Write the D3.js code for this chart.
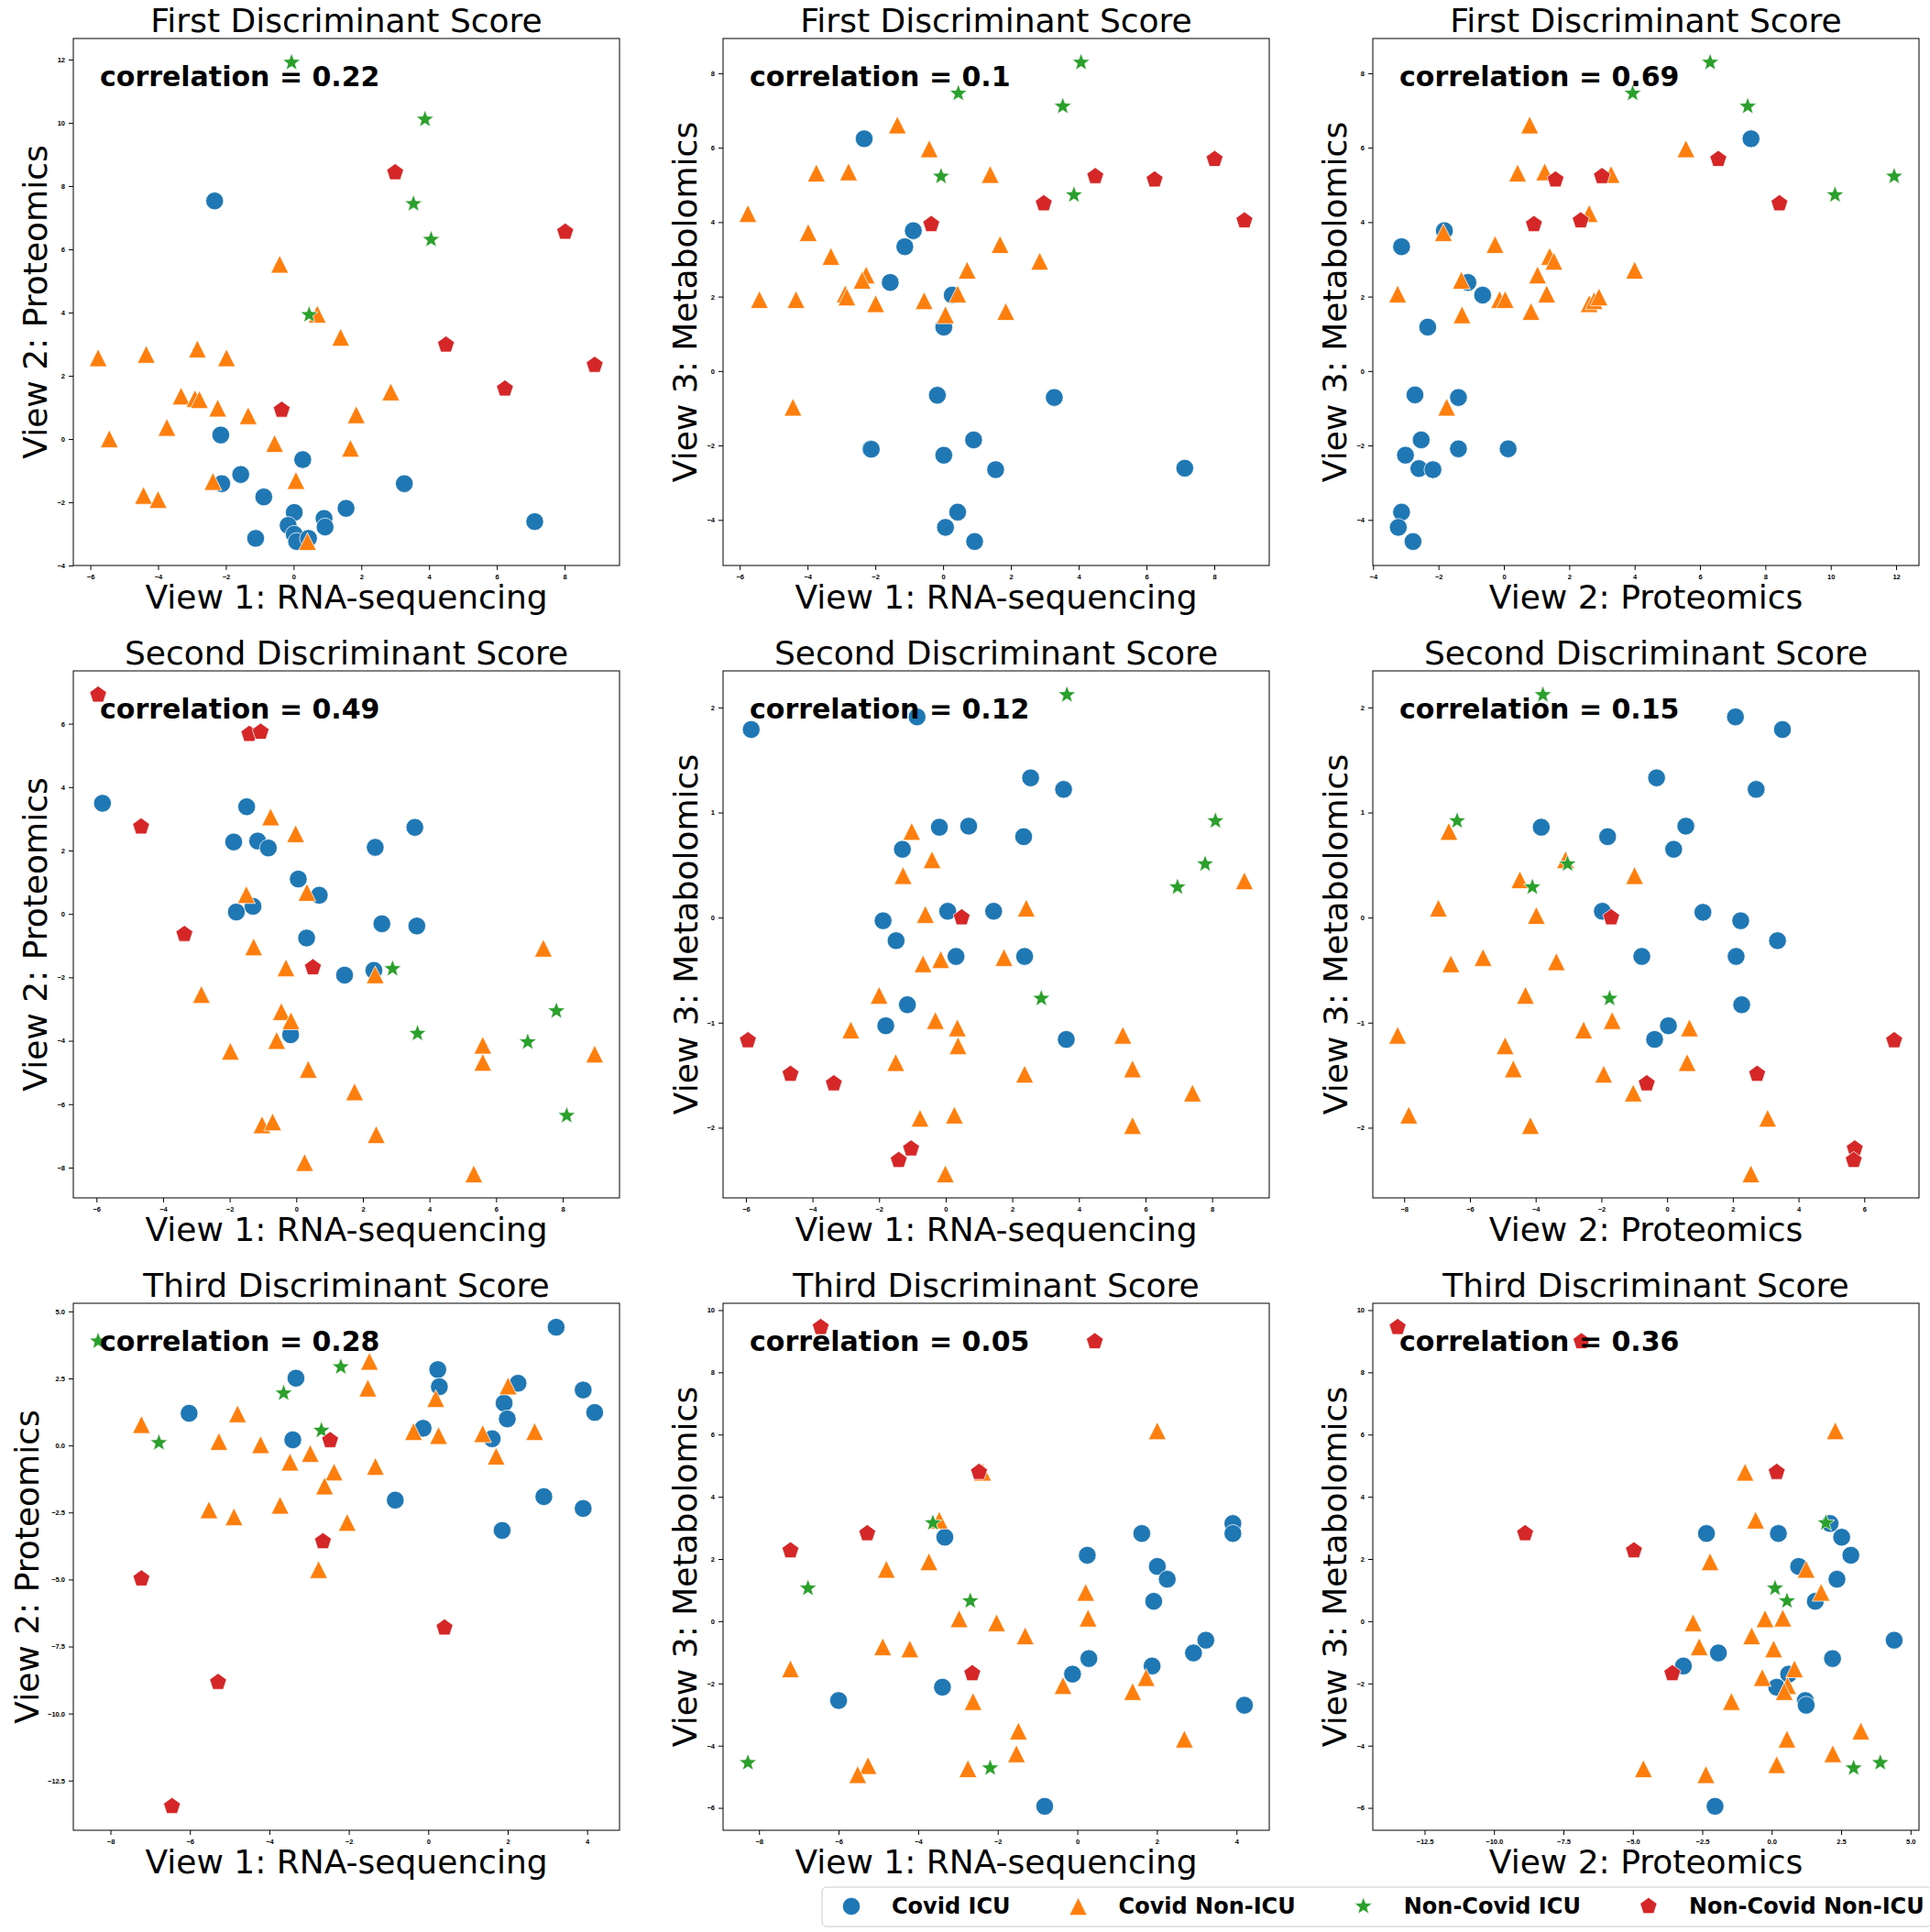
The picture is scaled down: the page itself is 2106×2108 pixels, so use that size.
<!DOCTYPE html>
<html lang="en">
<head>
<meta charset="UTF-8">
<title>Discriminant scores across views</title>
<script src="https://d3js.org/d3.v7.min.js"></script>
<style>
  body { margin: 0; background: #fff; }
  svg { display: block; font-family: "DejaVu Sans", sans-serif; }
  .tick text { font-size: 7.5px; font-weight: bold; fill: #000; }
  .tick line { stroke: #000; }
  .frame { fill: none; stroke: #000; stroke-width: 1; }
  .title, .label { font-size: 36px; fill: #000; }
  .corr { font-size: 30px; font-weight: bold; fill: #000; }
  .legend text { font-size: 24px; font-weight: bold; fill: #000; }
</style>
</head>
<body>
<svg id="chart" width="2106" height="2108"></svg>
<script>
// groups, in drawing order
const groups = ["Covid ICU", "Covid Non-ICU", "Non-Covid ICU", "Non-Covid Non-ICU"];
const scoreTitles = ["First Discriminant Score", "Second Discriminant Score", "Third Discriminant Score"];
const viewNames = ["View 1: RNA-sequencing", "View 2: Proteomics", "View 3: Metabolomics"];
const viewPairs = [[0, 1], [0, 2], [1, 2]];
const correlations = [[0.22, 0.1, 0.69], [0.49, 0.12, 0.15], [0.28, 0.05, 0.36]];

// tick values, row by row
const xTickValues = [
  [-6, -4, -2, 0, 2, 4, 6, 8], [-6, -4, -2, 0, 2, 4, 6, 8], [-4, -2, 0, 2, 4, 6, 8, 10, 12],
  [-6, -4, -2, 0, 2, 4, 6, 8], [-6, -4, -2, 0, 2, 4, 6, 8], [-8, -6, -4, -2, 0, 2, 4, 6],
  [-8, -6, -4, -2, 0, 2, 4], [-8, -6, -4, -2, 0, 2, 4], [-12.5, -10, -7.5, -5, -2.5, 0, 2.5, 5]
];
const yTickValues = [
  [-4, -2, 0, 2, 4, 6, 8, 10, 12], [-4, -2, 0, 2, 4, 6, 8], [-4, -2, 0, 2, 4, 6, 8],
  [-8, -6, -4, -2, 0, 2, 4, 6], [-2, -1, 0, 1, 2], [-2, -1, 0, 1, 2],
  [-12.5, -10, -7.5, -5, -2.5, 0, 2.5, 5], [-6, -4, -2, 0, 2, 4, 6, 8, 10], [-6, -4, -2, 0, 2, 4, 6, 8, 10]
];

// each panel: [Covid ICU, Covid Non-ICU, Non-Covid ICU, Non-Covid Non-ICU] as [x, y]
const firstRnaProt = [
  [[-2.33,7.53],[-2.15,0.13],[-2.12,-1.41],[-1.56,-1.12],[-1.12,-3.14],[-0.88,-1.83],[0.27,-0.65],[0.02,-2.32],[-0.16,-2.73],[0.02,-3.01],[0.09,-3.24],[0.44,-3.14],[0.90,-2.51],[0.93,-2.78],[1.55,-2.19],[3.27,-1.41],[7.12,-2.61]],
  [[-0.41,5.53],[0.70,3.95],[1.39,3.22],[-5.77,2.57],[-4.35,2.68],[-2.84,2.85],[-1.98,2.57],[2.87,1.49],[-3.32,1.36],[-2.91,1.28],[-2.78,1.25],[-2.24,0.98],[-1.34,0.74],[1.85,0.77],[-3.74,0.37],[-5.44,0.01],[-0.56,-0.14],[1.68,-0.29],[0.07,-1.31],[-2.38,-1.34],[-4.43,-1.78],[-4.0,-1.91],[0.41,-3.24]],
  [[-0.06,11.91],[3.88,10.11],[3.54,7.44],[4.06,6.31],[0.46,3.93]],
  [[3.0,8.43],[8.02,6.55],[4.5,2.98],[8.89,2.34],[6.24,1.59],[-0.35,0.92]]
];
const firstRnaMetab = [
  [[-2.33,6.24],[-0.88,3.77],[-1.13,3.34],[-1.56,2.38],[0.27,2.04],[0.02,1.18],[-0.17,-0.65],[3.28,-0.71],[-2.14,-2.09],[-2.12,-2.1],[0.90,-1.85],[0.02,-2.26],[1.55,-2.65],[7.13,-2.61],[0.43,-3.79],[0.07,-4.2],[0.93,-4.58]],
  [[-1.35,6.61],[-0.41,5.97],[-3.74,5.32],[-2.79,5.35],[1.39,5.28],[-5.76,4.23],[-3.98,3.72],[-3.31,3.08],[1.68,3.40],[2.85,2.95],[0.71,2.71],[-2.27,2.58],[-2.39,2.44],[-2.89,2.07],[-2.84,1.99],[-5.42,1.92],[-4.34,1.92],[-1.99,1.81],[-0.56,1.89],[0.43,2.07],[0.07,1.51],[1.85,1.60],[-4.43,-0.97]],
  [[4.07,8.29],[0.45,7.46],[3.53,7.11],[-0.06,5.23],[3.86,4.73]],
  [[8.01,5.69],[4.49,5.23],[6.24,5.14],[2.97,4.50],[-0.35,3.94],[8.89,4.04]]
];
const firstProtMetab = [
  [[7.56,6.24],[-1.82,3.77],[-3.13,3.34],[-1.10,2.38],[-0.65,2.04],[-2.33,1.18],[-2.72,-0.64],[-1.39,-0.71],[-2.53,-1.85],[-3.01,-2.26],[-2.60,-2.62],[-2.17,-2.65],[-1.39,-2.09],[0.13,-2.09],[-3.13,-3.79],[-3.23,-4.20],[-2.78,-4.58]],
  [[0.79,6.61],[5.57,5.97],[0.42,5.32],[1.25,5.35],[3.28,5.28],[2.61,4.23],[-1.85,3.72],[-0.27,3.40],[1.40,3.08],[1.53,2.95],[4.0,2.71],[1.03,2.58],[-1.30,2.44],[1.31,2.07],[-3.25,2.07],[-0.13,1.92],[0.04,1.92],[2.61,1.81],[2.76,1.89],[2.91,1.99],[-1.28,1.51],[0.83,1.60],[-1.75,-0.97]],
  [[6.31,8.29],[3.94,7.46],[7.46,7.11],[11.94,5.23],[10.13,4.73]],
  [[6.56,5.69],[3.0,5.23],[1.58,5.14],[8.43,4.50],[0.92,3.94],[2.35,4.04]]
];
const secondRnaProt = [
  [[-5.82,3.49],[-1.49,3.38],[-1.88,2.27],[-1.16,2.30],[-0.84,2.08],[2.37,2.10],[3.56,2.73],[0.06,1.10],[0.69,0.59],[-1.30,0.24],[-1.80,0.06],[2.57,-0.31],[3.62,-0.38],[0.31,-0.76],[2.33,-1.78],[1.45,-1.93],[-0.17,-3.81]],
  [[-0.77,3.06],[-0.02,2.53],[-1.50,0.61],[0.32,0.68],[-1.28,-1.04],[7.42,-1.08],[-0.31,-1.70],[2.37,-1.92],[-2.85,-2.54],[-0.45,-3.08],[-0.16,-3.37],[-0.59,-3.99],[-1.98,-4.33],[5.60,-4.14],[5.60,-4.68],[8.96,-4.42],[0.36,-4.90],[1.75,-5.61],[-1.03,-6.65],[-0.71,-6.56],[2.40,-6.96],[0.25,-7.84],[5.33,-8.20]],
  [[2.89,-1.73],[7.81,-3.06],[3.64,-3.77],[6.95,-4.04],[8.12,-6.36]],
  [[-5.95,6.91],[-1.41,5.67],[-1.07,5.74],[-4.66,2.75],[-3.36,-0.64],[0.50,-1.69]]
];
const secondRnaMetab = [
  [[-5.84,1.79],[-0.86,1.91],[2.55,1.33],[3.54,1.22],[-0.19,0.86],[0.69,0.87],[2.34,0.77],[-1.30,0.65],[0.06,0.06],[1.44,0.06],[-1.88,-0.03],[-1.49,-0.22],[0.31,-0.37],[2.37,-0.37],[-1.15,-0.83],[-1.80,-1.03],[3.62,-1.16]],
  [[-1.02,0.82],[-0.41,0.55],[-1.28,0.40],[8.97,0.35],[-0.61,0.03],[2.42,0.09],[-0.68,-0.44],[-0.15,-0.40],[1.75,-0.38],[-2.0,-0.74],[-2.85,-1.07],[-0.31,-0.98],[0.35,-1.05],[0.37,-1.22],[5.32,-1.12],[-1.50,-1.38],[2.37,-1.49],[5.61,-1.44],[7.41,-1.67],[-0.77,-1.91],[0.26,-1.88],[5.61,-1.98],[-0.01,-2.44]],
  [[3.64,2.12],[8.10,0.92],[7.79,0.51],[6.96,0.29],[2.87,-0.77]],
  [[0.48,0.0],[-5.94,-1.17],[-4.66,-1.49],[-3.36,-1.58],[-1.04,-2.20],[-1.41,-2.31]]
];
const secondProtMetab = [
  [[2.08,1.91],[3.51,1.79],[-0.32,1.33],[2.71,1.22],[-3.83,0.86],[0.57,0.87],[-1.81,0.77],[0.20,0.65],[-1.97,0.06],[1.09,0.05],[2.24,-0.03],[3.36,-0.22],[-0.77,-0.37],[2.10,-0.37],[2.27,-0.83],[0.04,-1.03],[-0.38,-1.16]],
  [[-6.64,0.82],[-3.09,0.55],[-4.48,0.36],[-0.99,0.40],[-6.96,0.09],[-3.98,0.02],[-6.58,-0.44],[-5.60,-0.38],[-3.37,-0.42],[-4.31,-0.74],[-8.20,-1.12],[-4.93,-1.22],[-4.68,-1.44],[-2.54,-1.07],[-1.67,-0.98],[0.68,-1.05],[0.61,-1.38],[-1.93,-1.49],[-1.03,-1.67],[-7.86,-1.88],[-4.16,-1.98],[3.06,-1.91],[2.55,-2.44]],
  [[-3.78,2.12],[-6.39,0.92],[-3.03,0.51],[-4.10,0.29],[-1.75,-0.77]],
  [[-1.70,0.0],[6.91,-1.17],[2.74,-1.49],[-0.62,-1.58],[5.71,-2.20],[5.68,-2.31]]
];
const thirdRnaProt = [
  [[3.22,4.41],[-3.33,2.51],[0.24,2.83],[0.28,2.19],[2.26,2.32],[3.90,2.07],[4.19,1.23],[-6.02,1.20],[1.91,1.58],[1.99,0.99],[-0.13,0.64],[-3.41,0.21],[1.61,0.25],[-0.83,-2.04],[2.91,-1.91],[3.90,-2.35],[1.86,-3.17]],
  [[-1.48,3.14],[-1.52,2.14],[2.01,2.22],[0.19,1.75],[-4.80,1.18],[-7.22,0.78],[-0.37,0.52],[0.26,0.37],[1.37,0.44],[2.68,0.52],[-5.27,0.15],[-4.22,0.03],[-2.97,-0.30],[1.71,-0.40],[-3.48,-0.62],[-2.37,-0.99],[-1.33,-0.78],[-2.61,-1.51],[-5.52,-2.40],[-3.73,-2.23],[-4.89,-2.66],[-2.04,-2.87],[-2.76,-4.63]],
  [[-8.31,3.89],[-2.20,2.93],[-3.64,1.95],[-2.69,0.56],[-6.78,0.10]],
  [[-2.47,0.19],[-2.65,-3.58],[-7.22,-4.97],[0.41,-6.80],[-5.29,-8.83],[-6.45,-13.46]]
];
const thirdRnaMetab = [
  [[-3.33,2.70],[1.62,2.82],[3.91,3.14],[3.91,2.82],[0.25,2.12],[2.01,1.76],[2.26,1.35],[1.92,0.64],[3.23,-0.61],[2.92,-1.02],[0.29,-1.20],[1.88,-1.44],[-0.12,-1.70],[-3.39,-2.12],[-6.0,-2.55],[4.20,-2.70],[-0.82,-5.95]],
  [[2.01,6.12],[-2.38,4.79],[-3.47,3.25],[-3.73,1.91],[-4.80,1.67],[0.21,0.93],[0.27,0.10],[-2.97,0.08],[-2.03,-0.05],[-1.31,-0.47],[-4.89,-0.82],[-4.21,-0.89],[-7.21,-1.53],[1.73,-1.81],[-0.36,-2.07],[1.39,-2.26],[-2.62,-2.58],[-1.48,-3.53],[2.69,-3.79],[-1.53,-4.26],[-5.26,-4.64],[-5.52,-4.93],[-2.75,-4.74]],
  [[-3.63,3.16],[-6.77,1.06],[-2.69,0.65],[-8.28,-4.55],[-2.19,-4.72]],
  [[-6.45,9.45],[0.44,8.99],[-2.47,4.79],[-5.28,2.82],[-7.21,2.27],[-2.64,-1.68]]
];
const thirdProtMetab = [
  [[-2.35,2.82],[0.24,2.82],[2.10,3.14],[2.52,2.70],[2.85,2.12],[0.97,1.76],[2.35,1.35],[1.57,0.64],[4.41,-0.61],[-1.92,-1.02],[2.19,-1.20],[-3.18,-1.44],[0.61,-1.70],[0.18,-2.12],[1.21,-2.55],[1.24,-2.70],[-2.04,-5.95]],
  [[2.29,6.12],[-0.96,4.79],[-0.58,3.25],[-2.22,1.91],[1.24,1.67],[1.78,0.93],[0.40,0.10],[-2.83,-0.05],[-0.24,0.08],[-0.72,-0.47],[-2.61,-0.82],[0.07,-0.89],[0.82,-1.53],[-0.34,-1.81],[0.57,-2.07],[0.45,-2.26],[-1.45,-2.58],[3.21,-3.53],[0.55,-3.79],[2.20,-4.26],[-4.62,-4.74],[-2.37,-4.93],[0.18,-4.61]],
  [[1.95,3.16],[0.12,1.06],[0.55,0.65],[3.91,-4.55],[2.95,-4.72]],
  [[-13.47,9.45],[-6.85,8.99],[0.18,4.79],[-8.88,2.82],[-4.96,2.27],[-3.58,-1.68]]
];

const panels = [
  [firstRnaProt, firstRnaMetab, firstProtMetab],
  [secondRnaProt, secondRnaMetab, secondProtMetab],
  [thirdRnaProt, thirdRnaMetab, thirdProtMetab]
];

const colors = ["#1f77b4", "#ff7f0e", "#2ca02c", "#d62728"];
const R = 9.7; // half marker size

// marker outlines like matplotlib's o ^ * p
function polygon(n, rOuter, rInner) {
  const pts = [];
  const k = rInner ? n * 2 : n;
  for (let i = 0; i < k; i++) {
    const a = -Math.PI / 2 + i * 2 * Math.PI / k;
    const r = rInner && i % 2 ? rInner : rOuter;
    pts.push([r * Math.cos(a), r * Math.sin(a)]);
  }
  return "M" + pts.map(p => p[0].toFixed(2) + "," + p[1].toFixed(2)).join("L") + "Z";
}
const shapes = [
  `M${R},0A${R},${R} 0 1,1 ${-R},0A${R},${R} 0 1,1 ${R},0Z`,
  `M0,${-R}L${-R},${R}L${R},${R}Z`,
  polygon(5, 10.2, 10.2 * 0.42),
  polygon(5, R)
];

const svg = d3.select("#chart");
svg.append("rect").attr("width", 2106).attr("height", 2108).attr("fill", "#fff");

const colLeft = [80, 789, 1498], rowTop = [42, 732, 1422];
const pw = 596, ph = 575;

function padded(vals) {
  const [lo, hi] = d3.extent(vals);
  const m = (hi - lo) * 0.05;
  return [lo - m, hi + m];
}
function fmtFor(ticks) {
  return ticks.some(t => !Number.isInteger(t)) ? d3.format(".1f") : d3.format("d");
}

panels.forEach((row, r) => {
  row.forEach((pts, c) => {
    const idx = r * 3 + c;
    const all = pts.flat();
    const x = d3.scaleLinear().domain(padded(all.map(d => d[0]))).range([0, pw]);
    const y = d3.scaleLinear().domain(padded(all.map(d => d[1]))).range([ph, 0]);

    const g = svg.append("g").attr("transform", `translate(${colLeft[c]},${rowTop[r]})`);

    const xt = xTickValues[idx], yt = yTickValues[idx];
    const xa = g.append("g").attr("transform", `translate(0,${ph})`)
      .call(d3.axisBottom(x).tickValues(xt).tickFormat(fmtFor(xt)).tickSize(5).tickSizeOuter(0).tickPadding(4.5));
    const ya = g.append("g")
      .call(d3.axisLeft(y).tickValues(yt).tickFormat(fmtFor(yt)).tickSize(5).tickSizeOuter(0).tickPadding(4));
    xa.select(".domain").remove();
    ya.select(".domain").remove();
    g.selectAll(".tick text").attr("font-family", null);

    g.append("rect").attr("class", "frame").attr("width", pw).attr("height", ph);

    pts.forEach((grp, k) => {
      g.append("g").selectAll("path").data(grp).join("path")
        .attr("d", shapes[k])
        .attr("transform", d => `translate(${x(d[0])},${y(d[1])})`)
        .attr("fill", colors[k])
        .attr("stroke", "#fff")
        .attr("stroke-width", 0.75);
    });

    g.append("text").attr("class", "corr")
      .attr("x", 29).attr("y", 52)
      .text(`correlation = ${correlations[r][c]}`);

    g.append("text").attr("class", "title")
      .attr("x", pw / 2).attr("y", -7).attr("text-anchor", "middle")
      .text(scoreTitles[r]);

    const [vx, vy] = viewPairs[c];
    g.append("text").attr("class", "label")
      .attr("x", pw / 2).attr("y", ph + 47).attr("text-anchor", "middle")
      .text(viewNames[vx]);

    const maxW = d3.max(ya.selectAll("text").nodes(), n => n.getBBox().width);
    g.append("text").attr("class", "label")
      .attr("text-anchor", "middle")
      .attr("transform", `translate(${-(maxW + 19.5)},${ph / 2}) rotate(-90)`)
      .text(viewNames[vy]);
  });
});

// legend along the bottom
const legend = svg.append("g").attr("class", "legend");
const legBox = legend.append("rect")
  .attr("y", 2059).attr("height", 43).attr("rx", 5)
  .attr("fill", "#fff").attr("stroke", "#cccccc").attr("stroke-width", 1);
let lx = 929;
groups.forEach((name, k) => {
  legend.append("path").attr("d", shapes[k])
    .attr("transform", `translate(${lx},2080)`)
    .attr("fill", colors[k]).attr("stroke", "#fff").attr("stroke-width", 0.75);
  const t = legend.append("text").attr("x", lx + 44).attr("y", 2088).text(name);
  lx += 44 + t.node().getComputedTextLength() + 74;
});
legBox.attr("x", 897).attr("width", lx - 74 + 8 - 897);
</script>
</body>
</html>
